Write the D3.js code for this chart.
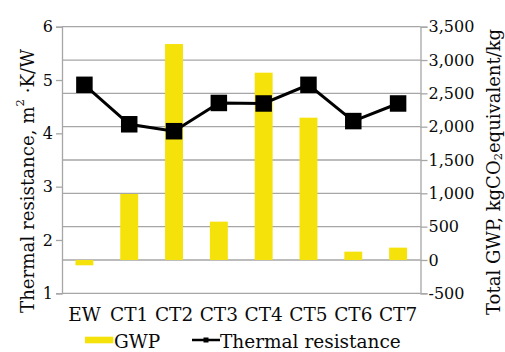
<!DOCTYPE html>
<html>
<head>
<meta charset="utf-8">
<script src="https://cdn.jsdelivr.net/npm/d3@7"></script>
<style>
  html, body { margin: 0; padding: 0; background: #fff; }
  svg { display: block; font-family: "DejaVu Serif", serif; }
</style>
</head>
<body>
<svg id="chart" width="505" height="352"></svg>
<script>
// Wall types along the x axis
const categories = ["EW", "CT1", "CT2", "CT3", "CT4", "CT5", "CT6", "CT7"];
// Total GWP, kgCO2 equivalent/kg (right axis, bars)
const gwpValues = [-80, 990, 3240, 575, 2810, 2135, 125, 185];
// Thermal resistance, m2·K/W (left axis, line)
const resistanceValues = [4.91, 4.17, 4.04, 4.57, 4.56, 4.91, 4.23, 4.56];
// Axis ticks
const leftTicks = [1, 2, 3, 4, 5, 6];
const rightTicks = [-500, 0, 500, 1000, 1500, 2000, 2500, 3000, 3500];

const W = 505, H = 352;
const margin = { top: 26.7, right: 84.5, bottom: 58.7, left: 62 };
const x0 = margin.left, x1 = W - margin.right;
const y0 = H - margin.bottom, y1 = margin.top;

const svg = d3.select("#chart");
const gridColor = "#a6a6a6";
const barColor = "#f6e20b";
const textColor = "#0a0a0a";
const tickFont = 16;
const labelFont = 18.5;

const x = d3.scaleBand().domain(categories).range([x0, x1]).padding(0);
const yL = d3.scaleLinear().domain([1, 6]).range([y0, y1]);
const yR = d3.scaleLinear().domain([-500, 3500]).range([y0, y1]);

// Horizontal gridlines follow the right-hand GWP axis
svg.append("g")
  .selectAll("line")
  .data(rightTicks)
  .join("line")
  .attr("x1", x0).attr("x2", x1)
  .attr("y1", d => yR(d)).attr("y2", d => yR(d))
  .attr("stroke", gridColor).attr("stroke-width", 1.3);

// GWP bars, drawn from the zero line
const barW = x.bandwidth() * 0.4;
svg.append("g")
  .selectAll("rect")
  .data(categories.map((c, i) => ({ c, v: gwpValues[i] })))
  .join("rect")
  .attr("x", d => x(d.c) + (x.bandwidth() - barW) / 2)
  .attr("width", barW)
  .attr("y", d => Math.min(yR(d.v), yR(0)))
  .attr("height", d => Math.abs(yR(d.v) - yR(0)))
  .attr("fill", barColor);

// Left axis
const leftAxis = svg.append("g")
  .attr("transform", `translate(${x0},0)`)
  .call(d3.axisLeft(yL).tickValues(leftTicks).tickSize(6).tickPadding(3).tickFormat(d3.format("d")));
// Right axis (thousands separators, plain hyphen for negatives)
const rightAxis = svg.append("g")
  .attr("transform", `translate(${x1},0)`)
  .call(d3.axisRight(yR).tickValues(rightTicks).tickSize(7).tickPadding(1)
    .tickFormat(d => d3.format(",")(d).replace("\u2212", "-")));
// Category axis
const bottomAxis = svg.append("g")
  .attr("transform", `translate(0,${y0})`)
  .call(d3.axisBottom(x).tickSize(0).tickPadding(14.5));

[leftAxis, rightAxis, bottomAxis].forEach(g => {
  g.select(".domain").attr("stroke", gridColor).attr("stroke-width", 1.3);
  g.selectAll(".tick line").attr("stroke", gridColor).attr("stroke-width", 1.3);
  g.selectAll(".tick text")
    .attr("fill", textColor)
    .style("font-family", '"DejaVu Serif", serif')
    .style("font-size", tickFont + "px");
});
bottomAxis.select(".domain").remove();
bottomAxis.selectAll(".tick text").style("font-size", labelFont + "px");

// Thermal resistance line with square markers
const pts = categories.map((c, i) => ({ c, v: resistanceValues[i] }));
const line = d3.line()
  .x(d => x(d.c) + x.bandwidth() / 2)
  .y(d => yL(d.v));
svg.append("path")
  .datum(pts)
  .attr("d", line)
  .attr("fill", "none")
  .attr("stroke", "#000")
  .attr("stroke-width", 3);
const mk = 16.5;
svg.append("g")
  .selectAll("rect")
  .data(pts)
  .join("rect")
  .attr("x", d => x(d.c) + x.bandwidth() / 2 - mk / 2)
  .attr("y", d => yL(d.v) - mk / 2)
  .attr("width", mk).attr("height", mk)
  .attr("fill", "#000");

// Axis titles, running upward from near the bottom edge
const leftTitle = svg.append("text")
  .attr("transform", "translate(27,313) rotate(-90)")
  .attr("text-anchor", "start")
  .attr("dominant-baseline", "central")
  .attr("fill", textColor)
  .style("font-size", "18.2px");
leftTitle.append("tspan").text("Thermal resistance, m");
leftTitle.append("tspan").attr("dy", -7.5).style("font-size", "11.5px").text("2");
leftTitle.append("tspan").attr("dy", 7.5).text(" ·K/W");

const rightTitle = svg.append("text")
  .attr("transform", "translate(493,315) rotate(-90)")
  .attr("text-anchor", "start")
  .attr("dominant-baseline", "central")
  .attr("fill", textColor)
  .style("font-size", "18px");
rightTitle.append("tspan").text("Total GWP, kgCO");
rightTitle.append("tspan").attr("dy", 5).style("font-size", "11.5px").text("2");
rightTitle.append("tspan").attr("dy", -5).text("equivalent/kg");

// Legend
const legBase = 348;
const legMid = 340;
const legend = svg.append("g");
legend.append("rect")
  .attr("x", 85).attr("y", legMid - 3.3).attr("width", 28.3).attr("height", 6.6)
  .attr("fill", barColor);
legend.append("text")
  .attr("x", 114).attr("y", legBase)
  .attr("fill", textColor).style("font-size", labelFont + "px").text("GWP");
legend.append("line")
  .attr("x1", 192).attr("x2", 220).attr("y1", legMid).attr("y2", legMid)
  .attr("stroke", "#000").attr("stroke-width", 2.5);
legend.append("rect")
  .attr("x", 203.5).attr("y", legMid - 2.5).attr("width", 5).attr("height", 5)
  .attr("fill", "#000");
legend.append("text")
  .attr("x", 220).attr("y", legBase)
  .attr("fill", textColor).style("font-size", labelFont + "px").text("Thermal resistance");
</script>
</body>
</html>
